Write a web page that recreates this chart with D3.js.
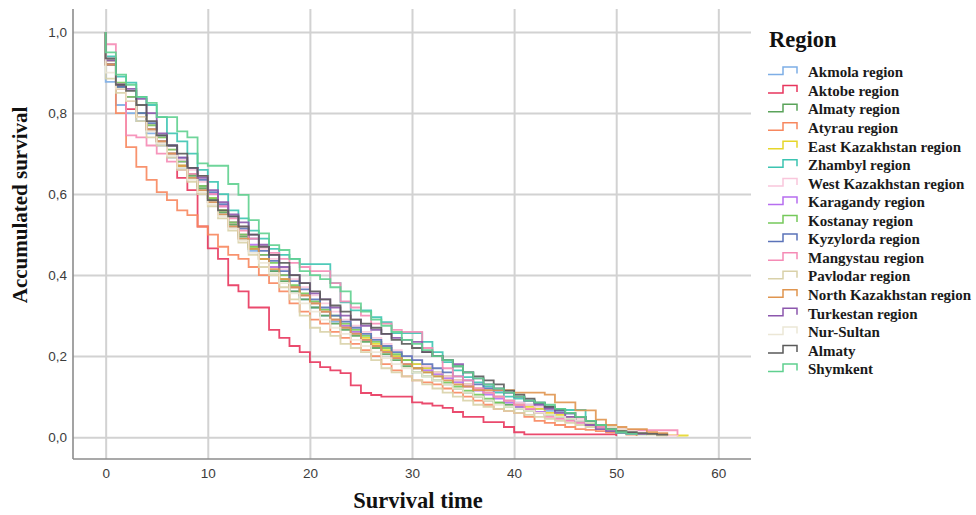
<!DOCTYPE html>
<html>
<head>
<meta charset="utf-8">
<script src="https://cdn.jsdelivr.net/npm/d3@7"></script>
<style>
body{margin:0;background:#fff;}
svg{display:block;}
</style>
</head>
<body>
<svg id="chart" width="976" height="515"></svg>
<script>
// ---- Data (survival at integer survival times 0,1,2,...) ----
const categories = ["Akmola region","Aktobe region","Almaty region","Atyrau region","East Kazakhstan region","Zhambyl region","West Kazakhstan region","Karagandy region","Kostanay region","Kyzylorda region","Mangystau region","Pavlodar region","North Kazakhstan region","Turkestan region","Nur-Sultan","Almaty","Shymkent"];
const colors = ["#7eaee6","#e8365d","#5aa35a","#f7875e","#e6d62a","#3cc4b1","#f9c6dc","#b66ef0","#76c95b","#5b73b9","#f58bb5","#d9d1a9","#e0954f","#8c57ad","#ece7d6","#5a5a5a","#5fd08f"];

const akmola = [.877,.82,.80,.78,.75,.72,.69,.665,.64,.61,.58,.55,.52,.49,.46,.44,.41,.39,.36,.34,.32,.30,.285,.27,.255,.24,.225,.21,.20,.19,.18,.17,.16,.15,.14,.13,.12,.11,.10,.09,.085,.08,.07,.065,.06,.05,.04,.03,.025,.02,.015,.01,.005];
const aktobe = [.93,.87,.81,.79,.76,.73,.70,.64,.61,.52,.466,.44,.375,.36,.32,.32,.265,.245,.225,.21,.185,.173,.165,.158,.128,.109,.104,.10,.10,.10,.086,.083,.078,.072,.062,.05,.05,.037,.037,.025,.012,.007,.007,.007,.007,.007,.007,.007,.007,.007,.003];
const almatyRegion = [.92,.865,.83,.79,.76,.73,.70,.67,.645,.615,.585,.555,.525,.495,.465,.44,.41,.385,.36,.34,.32,.30,.28,.265,.25,.235,.22,.205,.19,.175,.16,.15,.14,.13,.12,.11,.10,.09,.085,.08,.075,.068,.06,.055,.05,.045,.04,.035,.03,.025,.018,.012,.008,.005];
const atyrau = [.92,.80,.716,.667,.635,.605,.585,.56,.548,.52,.50,.47,.45,.44,.42,.40,.38,.36,.33,.31,.29,.28,.26,.245,.23,.215,.20,.18,.165,.15,.14,.135,.13,.12,.11,.10,.09,.08,.07,.065,.06,.05,.04,.035,.03,.025,.02,.018,.015,.012,.01,.006,.003];
const eastKazakhstan = [.92,.86,.83,.79,.76,.73,.70,.67,.65,.62,.59,.56,.53,.50,.47,.44,.42,.39,.37,.35,.33,.31,.29,.275,.26,.245,.23,.215,.20,.19,.18,.17,.16,.15,.14,.13,.12,.11,.10,.09,.08,.075,.07,.06,.055,.05,.04,.035,.03,.02,.015,.012,.01,.008,.006,.005,.004,.002];
const zhambyl = [.94,.89,.875,.84,.82,.79,.75,.73,.70,.66,.63,.60,.56,.54,.51,.49,.465,.45,.44,.427,.427,.427,.38,.333,.313,.313,.296,.284,.257,.257,.257,.235,.21,.185,.165,.148,.135,.125,.11,.10,.095,.09,.085,.075,.07,.067,.067,.04,.025,.015,.01,.008,.006];
const westKazakhstan = [.93,.87,.84,.80,.77,.74,.71,.685,.66,.63,.60,.57,.545,.52,.49,.465,.44,.415,.39,.37,.35,.33,.31,.29,.275,.26,.245,.23,.215,.20,.19,.175,.16,.15,.14,.13,.12,.11,.10,.09,.085,.08,.075,.07,.06,.05,.045,.04,.03,.02,.015,.012,.01,.008,.006,.004,.003];
const karagandy = [.92,.86,.84,.80,.76,.73,.70,.68,.65,.62,.60,.57,.53,.50,.475,.45,.42,.40,.37,.35,.33,.31,.29,.275,.26,.24,.225,.21,.195,.18,.17,.165,.155,.145,.135,.125,.115,.105,.095,.085,.075,.068,.062,.055,.048,.042,.036,.03,.025,.018,.012,.008,.005];
const kostanay = [.93,.875,.84,.80,.77,.74,.71,.68,.65,.62,.59,.56,.53,.50,.47,.45,.43,.40,.375,.355,.335,.315,.30,.28,.265,.25,.235,.22,.205,.19,.17,.16,.15,.135,.125,.115,.105,.095,.085,.075,.07,.065,.06,.055,.05,.045,.04,.035,.028,.02,.014,.01,.007,.005];
const kyzylorda = [.92,.865,.83,.80,.775,.745,.72,.69,.665,.635,.605,.575,.545,.515,.49,.46,.435,.41,.385,.365,.34,.32,.30,.285,.27,.255,.24,.225,.21,.20,.19,.18,.17,.16,.15,.14,.13,.12,.115,.11,.10,.09,.082,.073,.065,.058,.05,.04,.03,.02,.012,.01,.008,.005];
const mangystau = [.97,.87,.745,.74,.72,.70,.68,.66,.65,.645,.60,.57,.54,.51,.49,.47,.455,.44,.43,.42,.41,.41,.38,.335,.32,.30,.28,.28,.265,.26,.26,.22,.20,.17,.15,.14,.12,.11,.10,.09,.08,.07,.06,.05,.045,.04,.035,.03,.025,.022,.02,.018,.017,.017,.017,.017,.005];
const pavlodar = [.885,.85,.83,.78,.74,.72,.69,.66,.63,.60,.57,.54,.51,.48,.45,.42,.40,.37,.34,.30,.27,.26,.25,.23,.22,.21,.19,.17,.16,.15,.14,.13,.12,.11,.10,.09,.08,.075,.07,.065,.06,.055,.05,.045,.04,.035,.03,.025,.02,.015,.012,.01,.008,.006,.004,.003];
const northKazakhstan = [.92,.86,.83,.79,.76,.73,.70,.67,.64,.61,.58,.55,.52,.49,.465,.44,.415,.39,.37,.35,.33,.31,.29,.27,.255,.24,.225,.21,.195,.18,.17,.16,.15,.14,.13,.125,.116,.116,.116,.116,.11,.11,.11,.105,.086,.086,.066,.066,.043,.03,.025,.02,.02,.012,.01,.006];
const turkestan = [.93,.87,.86,.835,.80,.75,.72,.69,.665,.64,.61,.58,.55,.53,.50,.475,.45,.42,.40,.38,.355,.34,.32,.30,.29,.275,.265,.255,.245,.24,.235,.21,.20,.19,.18,.16,.145,.13,.12,.11,.10,.09,.08,.07,.06,.05,.04,.03,.02,.015,.012,.01,.008,.006];
const nurSultan = [.90,.86,.83,.79,.755,.725,.695,.665,.635,.605,.575,.545,.515,.485,.455,.43,.405,.38,.355,.33,.31,.29,.27,.255,.24,.225,.21,.195,.18,.17,.16,.15,.14,.13,.12,.11,.10,.09,.08,.075,.07,.065,.06,.055,.05,.045,.04,.035,.03,.025,.02,.015,.01,.005];
const almaty = [.935,.87,.855,.82,.78,.745,.72,.70,.665,.645,.585,.56,.545,.52,.50,.47,.45,.43,.40,.38,.36,.34,.325,.31,.29,.28,.27,.255,.24,.23,.22,.21,.20,.19,.175,.16,.15,.14,.13,.115,.105,.095,.085,.075,.068,.06,.05,.04,.03,.02,.015,.012,.01,.008,.006,.004];
const shymkent = [.95,.895,.87,.84,.825,.79,.79,.755,.74,.676,.67,.67,.625,.598,.536,.503,.474,.462,.44,.41,.40,.39,.37,.36,.33,.31,.29,.275,.26,.24,.23,.215,.20,.19,.175,.16,.145,.13,.12,.11,.10,.09,.085,.08,.07,.06,.05,.04,.03,.02,.012,.008,.005];

const seriesValues = [akmola,aktobe,almatyRegion,atyrau,eastKazakhstan,zhambyl,westKazakhstan,karagandy,kostanay,kyzylorda,mangystau,pavlodar,northKazakhstan,turkestan,nurSultan,almaty,shymkent];

const xTicks = [0,10,20,30,40,50,60];
const yTicks = [0,0.2,0.4,0.6,0.8,1.0];

// ---- Layout ----
(function draw(){
const svg = d3.select("#chart");
const pLeft = 73, pRight = 751, pTop = 9, pBottom = 459;
const x = d3.scaleLinear().domain([-3.2, 63.2]).range([pLeft, pRight]);
const y = d3.scaleLinear().domain([-0.054, 1.057]).range([pBottom, pTop]);

const locale = d3.formatLocale({decimal: ",", thousands: ".", grouping: [3], currency: ["", ""]});
const fmt = locale.format(".1f");

// gridlines + y axis
const gy = svg.append("g").attr("transform", `translate(${pLeft},0)`)
  .call(d3.axisLeft(y).tickValues(yTicks).tickFormat(fmt).tickSize(-(pRight-pLeft)).tickPadding(6));
gy.select(".domain").remove();
gy.selectAll(".tick line").attr("stroke", "#d2d2d2").attr("stroke-width", 2);
gy.selectAll(".tick text").attr("fill", "#3c3c3c").style("font-family", "Liberation Sans, Arial, sans-serif").style("font-size", "13.5px");

const gx = svg.append("g").attr("transform", `translate(0,${pBottom})`)
  .call(d3.axisBottom(x).tickValues(xTicks).tickFormat(d3.format("d")).tickSize(-(pBottom-pTop)).tickPadding(9));
gx.select(".domain").remove();
gx.selectAll(".tick line").attr("stroke", "#d2d2d2").attr("stroke-width", 2);
gx.selectAll(".tick text").attr("fill", "#3c3c3c").style("font-family", "Liberation Sans, Arial, sans-serif").style("font-size", "13.5px");

// frame axis lines (left & bottom)
svg.append("line").attr("x1", pLeft).attr("x2", pLeft).attr("y1", pTop).attr("y2", pBottom).attr("stroke", "#8c8c8c").attr("stroke-width", 1.6);
svg.append("line").attr("x1", pLeft).attr("x2", pRight).attr("y1", pBottom).attr("y2", pBottom).attr("stroke", "#8c8c8c").attr("stroke-width", 1.6);

// survival step lines
const line = d3.line().x(d => x(d[0])).y(d => y(d[1])).curve(d3.curveStepAfter);
const g = svg.append("g");
seriesValues.forEach((vals, i) => {
  const pts = [[0, 1]].concat(vals.map((v, t) => [t, v]));
  g.append("path").datum(pts).attr("d", line)
    .attr("fill", "none").attr("stroke", colors[i]).attr("stroke-width", 1.8)
    .attr("stroke-opacity", 0.9);
});

// axis titles
const serif = "Liberation Serif, Times New Roman, serif";
svg.append("text").attr("transform", "translate(27,205) rotate(-90)")
  .attr("text-anchor", "middle").style("font-family", serif).style("font-weight", "bold")
  .style("font-size", "21px").attr("fill", "#111").text("Accumulated survival");
svg.append("text").attr("x", 418).attr("y", 508).attr("text-anchor", "middle")
  .style("font-family", serif).style("font-weight", "bold").style("font-size", "22.5px")
  .attr("fill", "#111").text("Survival time");

// legend
svg.append("text").attr("x", 769).attr("y", 47).style("font-family", serif)
  .style("font-weight", "bold").style("font-size", "22.5px").attr("fill", "#111").text("Region");
const legY = d3.scaleLinear().domain([0, categories.length - 1]).range([72, 369]);
categories.forEach((name, i) => {
  const cy = legY(i);
  svg.append("path")
    .attr("d", `M768,${cy+2.5}H783V${cy-5}H797V${cy+1.5}`)
    .attr("fill", "none").attr("stroke", colors[i]).attr("stroke-width", 1.5);
  svg.append("text").attr("x", 808).attr("y", cy).attr("dy", "0.35em")
    .style("font-family", serif).style("font-weight", "bold").style("font-size", "15px")
    .attr("fill", "#1a1a1a").text(name);
});
})();
</script>
</body>
</html>
